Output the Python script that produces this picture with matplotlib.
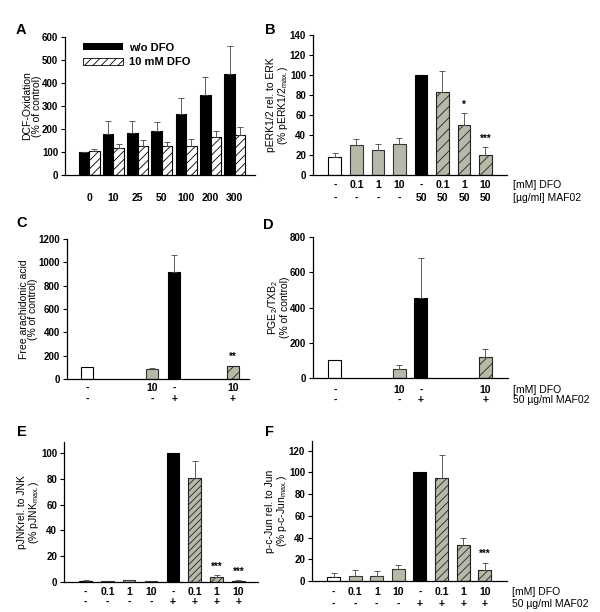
import matplotlib
matplotlib.use('Agg')
from matplotlib import pyplot as plt
from matplotlib import transforms
import numpy as np

plt.rcParams['font.family'] = ['Liberation Sans', 'DejaVu Sans']
plt.rcParams['mathtext.default'] = 'regular'
plt.rcParams['hatch.linewidth'] = 0.6

W, H = 600, 612
GRAY = '#b8b8a8'

# ---- data ----
# A: DCF oxidation, two series per concentration
a_conc = ['0', '10', '25', '50', '100', '200', '300']
a_wo_dfo = [100, 178, 182, 190, 266, 349, 438]
a_wo_dfo_err = [0, 58, 54, 41, 67, 79, 124]
a_dfo = [105, 117, 127, 124, 127, 165, 175]
a_dfo_err = [9, 17, 25, 19, 31, 28, 34]

# B: pERK1/2
b_vals = [18, 30, 25, 31, 100, 83, 50, 20]
b_err = [4, 6, 6, 6, 0, 21, 12, 8]
b_dfo = ['-', '0.1', '1', '10', '-', '0.1', '1', '10']
b_maf = ['-', '-', '-', '-', '50', '50', '50', '50']
b_sig = ['', '', '', '', '', '', '*', '***']

# C: free arachidonic acid
c_vals = [100, 90, 920, 110]
c_err = [0, 8, 145, 0]
c_dfo = ['-', '10', '-', '10']
c_maf = ['-', '-', '+', '+']
c_sig = ['', '', '', '**']

# D: PGE2/TXB2
d_vals = [100, 50, 455, 120]
d_err = [0, 25, 225, 45]
d_dfo = ['-', '10', '-', '10']
d_maf = ['-', '-', '+', '+']

# E: pJNK
e_vals = [1.0, 0.5, 1.5, 0.8, 100, 80.5, 4, 1]
e_err = [0.5, 0.3, 0.3, 0.3, 0, 13.5, 1.5, 0.5]
e_dfo = ['-', '0.1', '1', '10', '-', '0.1', '1', '10']
e_maf = ['-', '-', '-', '-', '+', '+', '+', '+']
e_sig = ['', '', '', '', '', '', '***', '***']

# F: p-c-Jun
f_vals = [3.5, 5, 5, 11, 100, 95, 33, 10.5]
f_err = [4, 5.5, 4.5, 4, 0, 21, 7, 6.5]
f_dfo = e_dfo
f_maf = e_maf
f_sig = ['', '', '', '', '', '', '', '***']

styles8 = ['white', 'gray', 'gray', 'gray', 'black', 'hatch', 'hatch', 'hatch']
styles4 = ['white', 'gray', 'black', 'hatch']

TICK_FS = 7
LAB_FS = 7.5
ROW_FS = 7.5

fig = plt.figure(figsize=(W / 100, H / 100), dpi=100)


def make_ax(left, right, top, bottom):
    ax = fig.add_axes([left / W, 1 - bottom / H, (right - left) / W, (bottom - top) / H])
    for s in ['top', 'right']:
        ax.spines[s].set_visible(False)
    ax.spines['left'].set_linewidth(0.9)
    ax.spines['bottom'].set_linewidth(0.9)
    ax.tick_params(axis='y', length=3, width=0.8, labelsize=TICK_FS, pad=2)
    ax.tick_params(axis='x', length=0, labelbottom=False)
    return ax


def ylab(ax, s):
    ax.set_ylabel(s, fontsize=LAB_FS, labelpad=0, linespacing=0.95)


def bars(ax, x, vals, errs, styles, width, hatch='///'):
    for xi, v, e, st in zip(x, vals, errs, styles):
        if st == 'white':
            ax.bar(xi, v, width, color='white', edgecolor='black', linewidth=0.8)
        elif st == 'gray':
            ax.bar(xi, v, width, color=GRAY, edgecolor='#333333', linewidth=0.8)
        elif st == 'black':
            ax.bar(xi, v, width, color='black', edgecolor='black', linewidth=0.8)
        else:
            ax.bar(xi, v, width, color=GRAY, edgecolor='#222222', linewidth=0.8, hatch=hatch)
        if e > 0:
            ax.errorbar(xi, v, yerr=[[0], [e]], fmt='none', ecolor='#444444',
                        elinewidth=0.6, capsize=2.2, capthick=0.6)


def stars(ax, x, vals, errs, sig, gap):
    for xi, v, e, s in zip(x, vals, errs, sig):
        if s:
            ax.text(xi, v + e + gap, s, ha='center', va='bottom', fontsize=7, fontweight='bold')


def rows(ax, x, row1, row2, y1, y2, lab1=None, lab2=None, labx=None):
    tr = transforms.blended_transform_factory(ax.transData, fig.transFigure)
    for xi, a, b in zip(x, row1, row2):
        ax.text(xi, 1 - y1 / H, a, transform=tr, ha='center', va='center', fontsize=ROW_FS, fontweight='bold')
        ax.text(xi, 1 - y2 / H, b, transform=tr, ha='center', va='center', fontsize=ROW_FS, fontweight='bold')
    if lab1:
        fig.text(labx / W, 1 - y1 / H, lab1, ha='left', va='center', fontsize=ROW_FS)
        fig.text(labx / W, 1 - y2 / H, lab2, ha='left', va='center', fontsize=ROW_FS)


def letter(x, y, s):
    fig.text(x / W, 1 - y / H, s, ha='center', va='center', fontsize=10.5, fontweight='bold')


# ---- A ----
axA = make_ax(65, 255, 37, 175)
ga = np.arange(len(a_conc))
bw = 0.43
for i in ga:
    axA.bar(i - bw / 2, a_wo_dfo[i], bw, color='black', edgecolor='black', linewidth=0.8)
    axA.bar(i + bw / 2, a_dfo[i], bw, color='white', edgecolor='black', linewidth=0.8, hatch='////')
axA.errorbar(ga - bw / 2, a_wo_dfo, yerr=[np.zeros(len(ga)), a_wo_dfo_err], fmt='none',
             ecolor='#444444', elinewidth=0.6, capsize=2.2, capthick=0.6)
axA.errorbar(ga + bw / 2, a_dfo, yerr=[np.zeros(len(ga)), a_dfo_err], fmt='none',
             ecolor='#444444', elinewidth=0.6, capsize=2.2, capthick=0.6)
axA.set_xlim(-0.99, 6.83)
axA.set_ylim(0, 600)
axA.set_yticks(range(0, 601, 100))
ylab(axA, 'DCF-Oxidation\n(% of control)')
tra = transforms.blended_transform_factory(axA.transData, fig.transFigure)
for i, c in zip(ga, a_conc):
    axA.text(i, 1 - 198 / H, c, transform=tra, ha='center', va='center', fontsize=ROW_FS, fontweight='bold')
axA.bar([0], [0], color='black', label='w/o DFO')
axA.bar([0], [0], color='white', edgecolor='black', linewidth=0.6, hatch='////', label='10 mM DFO')
leg = axA.legend(loc='upper left', bbox_to_anchor=(0.04, 1.03), frameon=False, handlelength=3.6,
                 handleheight=0.6, labelspacing=0.4, handletextpad=0.6,
                 prop={'size': 8, 'weight': 'bold'})
letter(21, 30, 'A')

# ---- B ----
axB = make_ax(313, 507, 35, 175)
xb = np.arange(8)
bars(axB, xb, b_vals, b_err, styles8, 0.6)
stars(axB, xb, b_vals, b_err, b_sig, 3)
axB.set_xlim(-1.02, 8.0)
axB.set_ylim(0, 140)
axB.set_yticks(range(0, 141, 20))
ylab(axB, 'pERK1/2 rel. to ERK\n(% pERK1/2$_{max.}$)')
rows(axB, xb, b_dfo, b_maf, 185, 198, '[mM] DFO', '[µg/ml] MAF02', 513)
letter(270, 30, 'B')

# ---- C ----
axC = make_ax(67, 249, 239, 379)
xc = [0, 3, 4, 6.7]
bars(axC, xc, c_vals, c_err, styles4, 0.55)
stars(axC, xc, c_vals, c_err, c_sig, 40)
axC.set_xlim(-0.92, 7.43)
axC.set_ylim(0, 1200)
axC.set_yticks(range(0, 1201, 200))
ylab(axC, 'Free arachidonic acid\n(% of control)')
rows(axC, xc, c_dfo, c_maf, 388, 399)
letter(22, 223, 'C')

# ---- D ----
axD = make_ax(313, 508, 237, 378)
xd = [0, 3, 4, 7]
bars(axD, xd, d_vals, d_err, styles4, 0.6)
axD.set_xlim(-1.02, 8.05)
axD.set_ylim(0, 800)
axD.set_yticks(range(0, 801, 200))
ylab(axD, 'PGE$_2$/TXB$_2$\n(% of control)')
rows(axD, xd, d_dfo, d_maf, 390, 400, '[mM] DFO', '50 µg/ml MAF02', 513)
letter(268, 225, 'D')

# ---- E ----
axE = make_ax(64, 258, 442, 582)
xe = np.arange(8)
bars(axE, xe, e_vals, e_err, styles8, 0.57, hatch='/////')
stars(axE, xe, e_vals, e_err, e_sig, 2.5)
axE.set_xlim(-0.99, 7.9)
axE.set_ylim(0, 108.5)
axE.set_yticks(range(0, 101, 20))
ylab(axE, 'pJNKrel. to JNK\n(% pJNK$_{max.}$)')
rows(axE, xe, e_dfo, e_maf, 592, 602)
letter(22, 432, 'E')

# ---- F ----
axF = make_ax(312, 507, 441, 581)
xf = np.arange(8)
bars(axF, xf, f_vals, f_err, styles8, 0.6, hatch='////')
stars(axF, xf, f_vals, f_err, f_sig, 3)
axF.set_xlim(-1.0, 8.03)
axF.set_ylim(0, 129)
axF.set_yticks(range(0, 121, 20))
ylab(axF, 'p-c-Jun rel. to Jun\n(% p-c-Jun$_{max.}$)')
rows(axF, xf, f_dfo, f_maf, 592, 604, '[mM] DFO', '50 µg/ml MAF02', 512)
letter(269, 432, 'F')

for ax in [axA, axB, axC, axD, axE, axF]:
    for t in ax.get_yticklabels():
        t.set_fontweight('bold')

fig.savefig('out.png', dpi=100)
